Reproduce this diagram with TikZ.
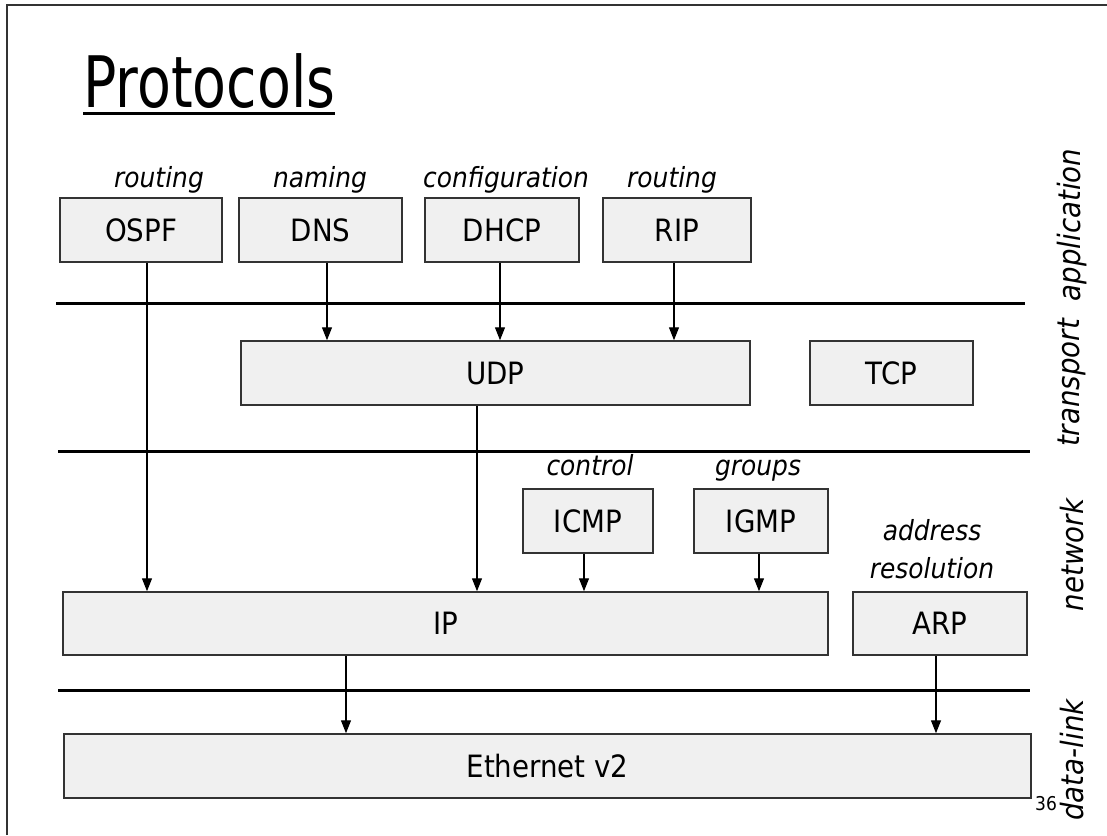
\documentclass[tikz,border=0pt]{standalone}
\usepackage{fontspec}
\setmainfont{DejaVu Sans}[FakeStretch=0.9]
\newfontfamily\titlefont{DejaVu Sans}[FakeStretch=0.78]
\usetikzlibrary{arrows.meta,calc}
\definecolor{boxfill}{HTML}{F0F0F0}
\definecolor{boxline}{HTML}{333333}
\begin{document}
\begin{tikzpicture}[x={(1pt,0)},y={(0,-1pt)},
  proto/.style={draw=boxline,fill=boxfill,line width=1.5pt,inner sep=0pt,
    minimum height=64pt,font=\fontsize{30.75}{36}\selectfont,
    text height=22pt,text depth=0pt},
  lab/.style={anchor=base,inner sep=0pt,font=\fontsize{27.7}{33}\selectfont\itshape},
  side/.style={rotate=90,inner sep=0pt,font=\fontsize{30.75}{36}\selectfont\itshape},
  arr/.style={line width=1.3pt,-{Triangle[width=10pt,length=13pt]}},
  layer/.style={line width=3pt}]
\useasboundingbox (0,0) rectangle (1107,835);
% frame
\draw[line width=2pt,boxline] (7,835) -- (7,5) -- (1107,5);
% title
\node[anchor=base west,inner sep=0pt,font=\fontsize{71}{80}\selectfont\titlefont] (title) at (83,107) {Protocols};
\draw[line width=3pt] ([yshift=-6pt]title.base west) -- ([yshift=-6pt]title.base east);
% layer separators
\coordinate (l1a) at (56,303); \coordinate (l1b) at (1025,303);
\coordinate (l2a) at (58,451); \coordinate (l2b) at (1030,451);
\coordinate (l3a) at (58,690); \coordinate (l3b) at (1030,690);
\draw[layer] (l1a) -- (l1b);
\draw[layer] (l2a) -- (l2b);
\draw[layer] (l3a) -- (l3b);
% application row
\node[proto,minimum width=162pt] (ospf) at (141,230) {OSPF};
\node[proto,minimum width=163pt] (dns) at (320.5,230) {DNS};
\node[proto,minimum width=154pt] (dhcp) at (502,230) {DHCP};
\node[proto,minimum width=148pt] (rip) at (677,230) {RIP};
\node[lab] (lrout1) at (159,187) {routing};
\node[lab] (lnam) at (320,187) {naming};
\node[lab] (lconf) at (506,187) {configuration};
\node[lab] (lrout2) at (672,187) {routing};
% transport row
\node[proto,minimum width=509pt] (udp) at (495.5,373) {UDP};
\node[proto,minimum width=163pt] (tcp) at (891.5,373) {TCP};
% network row
\node[proto,minimum width=130pt] (icmp) at (588,521) {ICMP};
\node[proto,minimum width=134pt] (igmp) at (761,521) {IGMP};
\node[lab] (lctl) at (590,475) {control};
\node[lab] (lgrp) at (758,475) {groups};
\node[proto,minimum width=765pt,minimum height=63pt] (ip) at (445.5,623.5) {IP};
\node[proto,minimum width=174pt,minimum height=63pt] (arp) at (940,623.5) {ARP};
\node[lab] (laddr) at (932,540) {address};
\node[lab] (lres) at (932,578) {resolution};
% data-link row
\node[proto,minimum width=967pt] (eth) at (547.5,766) {Ethernet v2};
% side labels
\node[side] (sapp) at (1072,225) {application};
\node[side] (stra) at (1072,383) {transport};
\node[side] (snet) at (1072,555) {network};
\node[side] (sdl) at (1072,760) {data-link};
\node[anchor=base,inner sep=0pt,font=\fontsize{19}{22}\selectfont] (pg) at (1046,810) {36};
% arrows
\draw[arr] ([xshift=6pt]ospf.south) -- ([xshift=6pt]ospf.south |- ip.north);
\draw[arr] ([xshift=6.5pt]dns.south) -- ([xshift=6.5pt]dns.south |- udp.north);
\draw[arr] ([xshift=-2pt]dhcp.south) -- ([xshift=-2pt]dhcp.south |- udp.north);
\draw[arr] ([xshift=-3pt]rip.south) -- ([xshift=-3pt]rip.south |- udp.north);
\draw[arr] ([xshift=-18.5pt]udp.south) -- ([xshift=-18.5pt]udp.south |- ip.north);
\draw[arr] ([xshift=-4pt]icmp.south) -- ([xshift=-4pt]icmp.south |- ip.north);
\draw[arr] ([xshift=-2pt]igmp.south) -- ([xshift=-2pt]igmp.south |- ip.north);
\draw[arr] ([xshift=-99.5pt]ip.south) -- ([xshift=-99.5pt]ip.south |- eth.north);
\draw[arr] ([xshift=-4pt]arp.south) -- ([xshift=-4pt]arp.south |- eth.north);
\end{tikzpicture}
\end{document}
